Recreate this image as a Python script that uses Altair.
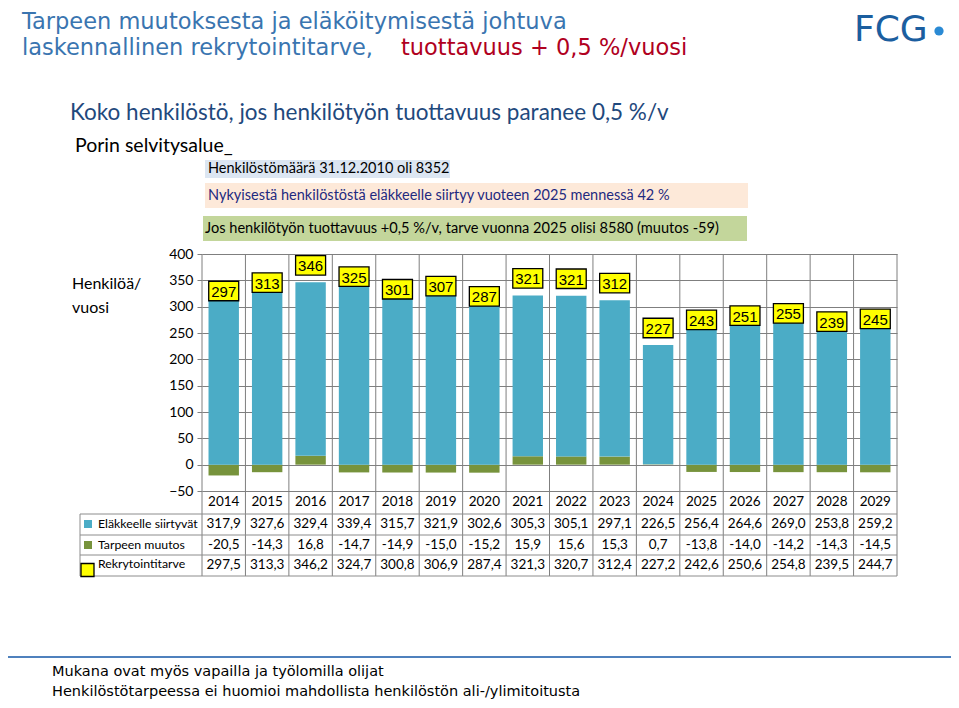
import altair as alt
import pandas as pd

# ---------------- data ----------------
years = [str(y) for y in range(2014, 2030)]
elakkeelle = [317.9, 327.6, 329.4, 339.4, 315.7, 321.9, 302.6, 305.3, 305.1, 297.1,
              226.5, 256.4, 264.6, 269.0, 253.8, 259.2]
muutos = [-20.5, -14.3, 16.8, -14.7, -14.9, -15.0, -15.2, 15.9, 15.6, 15.3,
          0.7, -13.8, -14.0, -14.2, -14.3, -14.5]
rekry = [297.5, 313.3, 346.2, 324.7, 300.8, 306.9, 287.4, 321.3, 320.7, 312.4,
         227.2, 242.6, 250.6, 254.8, 239.5, 244.7]
box_labels = [297, 313, 346, 325, 301, 307, 287, 321, 321, 312, 227, 243, 251, 255, 239, 245]
y_ticks = [-50, 0, 50, 100, 150, 200, 250, 300, 350, 400]
series_names = ["Tarpeen muutos", "Eläkkeelle siirtyvät"]
series_colors = ["#77933C", "#4BACC6"]

title1 = "Tarpeen muutoksesta ja eläköitymisestä johtuva"
title2a = "laskennallinen rekrytointitarve,"
title2b = "tuottavuus + 0,5 %/vuosi"
heading = "Koko henkilöstö, jos henkilötyön tuottavuus paranee 0,5 %/v"
subheading = "Porin selvitysalue_"
note1 = "Henkilöstömäärä 31.12.2010 oli 8352"
note2 = "Nykyisestä henkilöstöstä eläkkeelle siirtyy vuoteen 2025 mennessä 42 %"
note3 = "Jos henkilötyön tuottavuus +0,5 %/v, tarve vuonna 2025 olisi 8580 (muutos  -59)"
footer1 = "Mukana ovat myös vapailla ja työlomilla olijat"
footer2 = "Henkilöstötarpeessa ei huomioi mahdollista henkilöstön ali-/ylimitoitusta"


def fi(v):
    return f"{v:.1f}".replace(".", ",")


# ---------------- tables ----------------
W, H = 695, 237
PAD_I, PAD_O = 0.3, 0.15
step = W / (len(years) - PAD_I + 2 * PAD_O)

bars_df = pd.DataFrame(
    [{"year": y, "series": series_names[0], "ord": 0, "value": m} for y, m in zip(years, muutos)]
    + [{"year": y, "series": series_names[1], "ord": 1, "value": e} for y, e in zip(years, elakkeelle)]
)
lab_df = pd.DataFrame({"year": years, "rekry": rekry, "lab": [str(v) for v in box_labels]})
tab_df = pd.DataFrame({
    "year": years,
    "e": [fi(v) for v in elakkeelle],
    "m": [fi(v) for v in muutos],
    "r": [fi(v) for v in rekry],
})

xscale = alt.Scale(domain=years, paddingInner=PAD_I, paddingOuter=PAD_O)
yscale = alt.Scale(domain=[-50, 400], nice=False, zero=False)
yaxis = alt.Axis(values=y_ticks, grid=True, gridColor="#7f7f7f", gridWidth=1,
                 tickColor="#7f7f7f", tickSize=5, domain=False, labelFont="Lato",
                 labelFontSize=14, labelColor="black", labelPadding=4, title=None)
X = alt.X("year:N", scale=xscale, axis=None)

one = pd.DataFrame({"k": [0]})
GRID = "#7f7f7f"
TAB = "#8c8c8c"


def txt(s, x, y, size, color="black", font="Lato", align="left", baseline="middle"):
    return alt.Chart(one).mark_text(text=s, font=font, fontSize=size, color=color,
                                    align=align, baseline=baseline).encode(
        x=alt.value(x), y=alt.value(y))


def rule(x, x2, y, y2, color=TAB, w=1):
    return alt.Chart(one).mark_rule(color=color, strokeWidth=w).encode(
        x=alt.value(x), x2=alt.value(x2), y=alt.value(y), y2=alt.value(y2))


def rect(x, x2, y, y2, color):
    return alt.Chart(one).mark_rect(color=color).encode(
        x=alt.value(x), x2=alt.value(x2), y=alt.value(y), y2=alt.value(y2))


layers = []

# vertical column lines (plot + table)
layers.append(alt.Chart(lab_df).mark_rule(color=GRID, strokeWidth=1, xOffset=-PAD_O * step).encode(
    x=alt.X("year:N", scale=xscale, axis=None, bandPosition=0),
    y=alt.value(0), y2=alt.value(322)))
layers.append(rule(W, W, 0, 322, GRID))

# stacked bars
layers.append(alt.Chart(bars_df).mark_bar().encode(
    x=X,
    y=alt.Y("value:Q", stack="zero", scale=yscale, axis=yaxis),
    color=alt.Color("series:N", scale=alt.Scale(domain=series_names, range=series_colors), legend=None),
    order=alt.Order("ord:Q"),
))

# yellow label boxes
layers.append(alt.Chart(lab_df).mark_point(
    shape="M-1,-0.65L1,-0.65L1,0.65L-1,0.65Z", size=900, filled=True, fill="#FFFF00",
    stroke="black", strokeWidth=1.3, opacity=1, yOffset=-17).encode(
    x=X, y=alt.Y("rekry:Q", scale=yscale, axis=yaxis)))
layers.append(alt.Chart(lab_df).mark_text(font="Liberation Sans", fontSize=15, color="black",
                                          baseline="middle", yOffset=-16).encode(
    x=X, y=alt.Y("rekry:Q", scale=yscale, axis=yaxis), text="lab:N"))

# year labels
layers.append(alt.Chart(lab_df).mark_text(font="Lato", fontSize=13.5, color="black", baseline="middle").encode(
    x=X, y=alt.value(248), text="year:N"))

# table rows
for col, yy in [("e", 270), ("m", 291), ("r", 311)]:
    layers.append(alt.Chart(tab_df).mark_text(font="Lato", fontSize=13.5, color="black", baseline="middle").encode(
        x=X, y=alt.value(yy), text=f"{col}:N"))

# table horizontal lines and left border
for yy in [260, 281, 301, 322]:
    layers.append(rule(-122, W, yy, yy))
layers.append(rule(-122, -122, 260, 322))

# table legend
layers.append(alt.Chart(one).mark_point(shape="square", size=64, filled=True, opacity=1,
                                        color=series_colors[1]).encode(x=alt.value(-114), y=alt.value(270)))
layers.append(alt.Chart(one).mark_point(shape="square", size=64, filled=True, opacity=1,
                                        color=series_colors[0]).encode(x=alt.value(-114), y=alt.value(291)))
layers.append(alt.Chart(one).mark_point(shape="square", size=169, filled=True, opacity=1, fill="#FFFF00",
                                        stroke="black", strokeWidth=1.3).encode(x=alt.value(-114.5), y=alt.value(316)))
layers.append(txt("Eläkkeelle siirtyvät", -104, 270, 12.3))
layers.append(txt("Tarpeen muutos", -104, 291, 12.3))
layers.append(txt("Rekrytointitarve", -104, 310, 12.3))

# y label
layers.append(txt("Henkilöä/", -130, 30, 16))
layers.append(txt("vuosi", -130, 54, 16))

# header texts
TFONT = "DejaVu Sans"
layers.append(txt(title1, -180, -225, 22.5, "#3A75B0", TFONT, baseline="alphabetic"))
layers.append(txt(title2a, -180, -199, 22.5, "#3A75B0", TFONT, baseline="alphabetic"))
layers.append(txt(title2b, 199, -199, 22.5, "#B00020", TFONT, baseline="alphabetic"))
layers.append(txt("FCG", 652, -213, 36, "#1B5E9F", "DejaVu Sans", baseline="alphabetic"))
layers.append(alt.Chart(one).mark_point(shape="circle", size=85, filled=True, opacity=1,
                                        color="#2A8AD4").encode(x=alt.value(737), y=alt.value(-223)))

layers.append(txt(heading, -132, -141, 22.5, "#1F497D"))
layers.append(txt(subheading, -127, -108, 19.5))

layers.append(rect(3, 248, -94, -76, "#DCE6F2"))
layers.append(txt(note1, 6, -85, 14.5))
layers.append(rect(3, 546, -71, -46, "#FDE9D9"))
layers.append(txt(note2, 6, -58, 14.5, "#1F2A80"))
layers.append(rect(1, 545, -38, -13, "#C3D69B"))
layers.append(txt(note3, 3, -25, 14.6))

# footer
layers.append(rule(-197, 753, 403, 403, "#4F81BD", 2))
layers.append(txt(footer1, -150, 422, 14.5, "black", TFONT, baseline="alphabetic"))
layers.append(txt(footer2, -150, 442, 14.5, "black", TFONT, baseline="alphabetic"))

chart = alt.layer(*layers).properties(
    width=W, height=H,
    autosize=alt.AutoSizeParams(type="none"),
    padding={"left": 194, "top": 246, "right": 54, "bottom": 209},
    background="white",
).configure_view(stroke=None)

chart.save("out.html", embed_options={"renderer": "svg", "actions": False})
